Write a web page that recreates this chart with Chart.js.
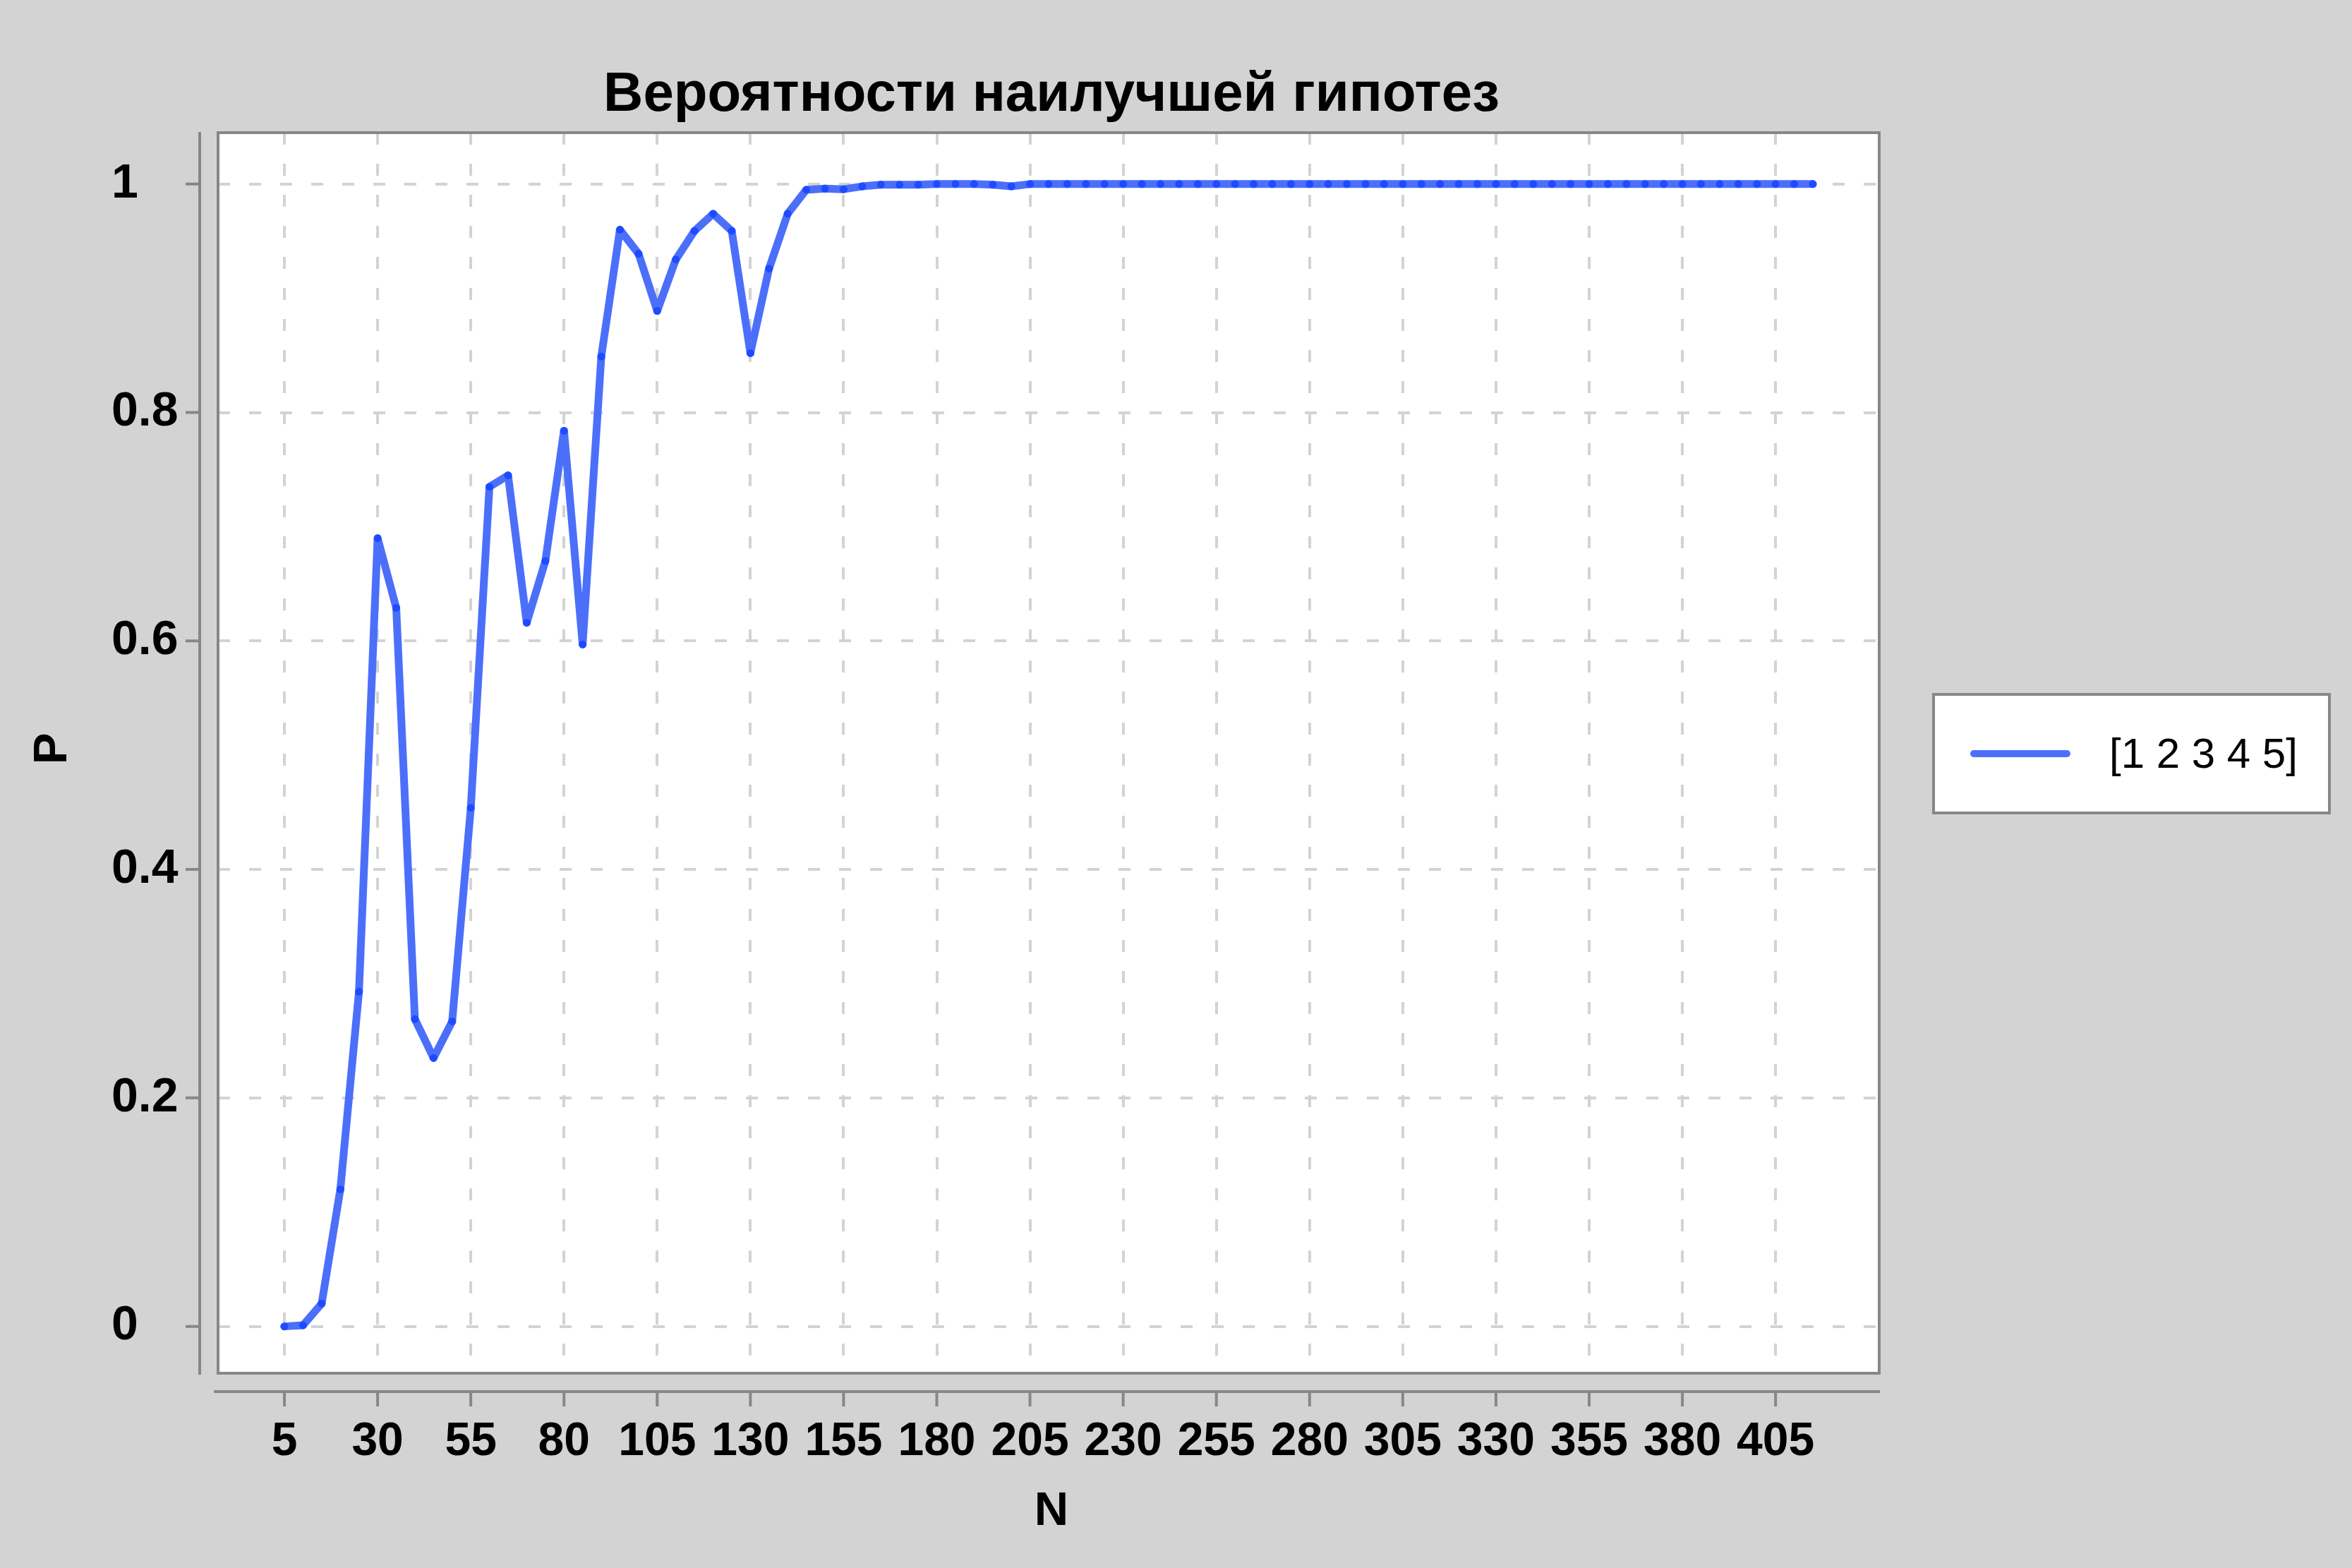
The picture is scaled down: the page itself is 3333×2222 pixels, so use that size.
<!DOCTYPE html>
<html>
<head>
<meta charset="utf-8">
<title>Вероятности наилучшей гипотез</title>
<script src="https://cdn.jsdelivr.net/npm/chart.js@4/dist/chart.umd.min.js"></script>
<style>
  html, body { margin: 0; padding: 0; background: #d3d3d3; }
  canvas { display: block; }
</style>
</head>
<body>
<canvas id="chart" width="3333" height="2222" style="width:3333px;height:2222px"></canvas>
<script>
// данные
const nValues = [5, 10, 15, 20, 25, 30, 35, 40, 45, 50, 55, 60, 65, 70, 75, 80, 85, 90, 95, 100,
  105, 110, 115, 120, 125, 130, 135, 140, 145, 150, 155, 160, 165, 170, 175, 180, 185, 190, 195, 200,
  205, 210, 215, 220, 225, 230, 235, 240, 245, 250, 255, 260, 265, 270, 275, 280, 285, 290, 295, 300,
  305, 310, 315, 320, 325, 330, 335, 340, 345, 350, 355, 360, 365, 370, 375, 380, 385, 390, 395, 400,
  405, 410, 415];
const pValues = [0, 0.001, 0.02, 0.12, 0.293, 0.69, 0.629, 0.269, 0.235, 0.267,
  0.454, 0.735, 0.745, 0.616, 0.67, 0.784, 0.597, 0.849, 0.96, 0.939,
  0.889, 0.934, 0.959, 0.974, 0.959, 0.852, 0.926, 0.974, 0.995, 0.996,
  0.9955, 0.998, 0.9995, 0.9995, 0.9995, 1, 1, 1, 0.9995, 0.998,
  1, 1, 1, 1, 1, 1, 1, 1, 1, 1, 1, 1, 1, 1, 1, 1, 1, 1, 1, 1,
  1, 1, 1, 1, 1, 1, 1, 1, 1, 1, 1, 1, 1, 1, 1, 1, 1, 1, 1, 1,
  1, 1, 1];
const xTicks = [5, 30, 55, 80, 105, 130, 155, 180, 205, 230, 255, 280, 305, 330, 355, 380, 405];
const yTicks = [0, 0.2, 0.4, 0.6, 0.8, 1];
const yTickLabels = ['0', '0.2', '0.4', '0.6', '0.8', '1'];
const seriesName = '[1 2 3 4 5]';
const titleText = 'Вероятности наилучшей гипотез';
const xTitle = 'N';
const yTitle = 'P';

const lineColor = '#4c6ffa';
const axisGray = '#878787';
const fontFamily = "'Liberation Sans', Arial, sans-serif";

// рамка, оси, заголовки и легенда
const framePlugin = {
  id: 'frame',
  beforeDraw: function(chart) {
    const ctx = chart.ctx;
    const a = chart.chartArea;
    ctx.save();
    ctx.fillStyle = '#d3d3d3';
    ctx.fillRect(0, 0, chart.width, chart.height);
    ctx.fillStyle = '#ffffff';
    ctx.fillRect(a.left, a.top, a.right - a.left, a.bottom - a.top);
    ctx.restore();
  },
  afterDraw: function(chart) {
    const ctx = chart.ctx;
    const a = chart.chartArea;
    const xs = chart.scales.x;
    const ys = chart.scales.y;
    ctx.save();

    // рамка области графика
    ctx.strokeStyle = axisGray;
    ctx.lineWidth = 4;
    ctx.strokeRect(a.left, a.top, a.right - a.left, a.bottom - a.top);

    // ось Y, смещённая влево
    const yAxisX = a.left - 26;
    ctx.beginPath();
    ctx.moveTo(yAxisX, a.top - 1);
    ctx.lineTo(yAxisX, a.bottom + 2);
    yTicks.forEach(function(v) {
      const py = ys.getPixelForValue(v);
      ctx.moveTo(yAxisX, py);
      ctx.lineTo(yAxisX - 20, py);
    });
    // ось X, смещённая вниз
    const xAxisY = a.bottom + 26;
    ctx.moveTo(a.left - 6, xAxisY);
    ctx.lineTo(a.right + 1, xAxisY);
    xTicks.forEach(function(v) {
      const px = xs.getPixelForValue(v);
      ctx.moveTo(px, xAxisY);
      ctx.lineTo(px, xAxisY + 21);
    });
    ctx.stroke();

    // заголовок
    const cx = (a.left + a.right) / 2;
    ctx.fillStyle = '#000';
    ctx.textAlign = 'center';
    ctx.textBaseline = 'alphabetic';
    ctx.font = 'bold 78px ' + fontFamily;
    ctx.fillText(titleText, cx + 4, 157);

    // подписи осей
    ctx.font = 'bold 67px ' + fontFamily;
    ctx.textBaseline = 'middle';
    ctx.fillText(xTitle, cx + 4, 2143);
    ctx.save();
    ctx.translate(76, (a.top + a.bottom) / 2 - 6);
    ctx.rotate(-Math.PI / 2);
    ctx.fillText(yTitle, 0, 0);
    ctx.restore();

    // легенда
    const lx = 2740, ly = 984, lw = 561, lh = 168;
    ctx.fillStyle = '#ffffff';
    ctx.fillRect(lx, ly, lw, lh);
    ctx.strokeStyle = axisGray;
    ctx.lineWidth = 4;
    ctx.strokeRect(lx, ly, lw, lh);
    const midY = ly + lh / 2;
    ctx.strokeStyle = lineColor;
    ctx.lineWidth = 10;
    ctx.lineCap = 'round';
    ctx.beginPath();
    ctx.moveTo(2797, midY);
    ctx.lineTo(2929, midY);
    ctx.stroke();
    ctx.fillStyle = '#000';
    ctx.textAlign = 'left';
    ctx.textBaseline = 'middle';
    ctx.font = '60px ' + fontFamily;
    ctx.fillText(chart.data.datasets[0].label, 2989, midY + 3);

    ctx.restore();
  }
};

const chart = new Chart(document.getElementById('chart').getContext('2d'), {
  type: 'line',
  data: {
    labels: nValues,
    datasets: [{
      label: seriesName,
      data: nValues.map(function(n, i) { return { x: n, y: pValues[i] }; }),
      borderColor: lineColor,
      borderWidth: 11,
      borderCapStyle: 'round',
      borderJoinStyle: 'round',
      tension: 0,
      fill: false,
      pointRadius: 5.5,
      pointHoverRadius: 5.5,
      pointBorderWidth: 0,
      pointBackgroundColor: '#1e4bff'
    }]
  },
  options: {
    responsive: false,
    animation: false,
    devicePixelRatio: 1,
    layout: { padding: { left: 158, top: 188, right: 670, bottom: 0 } },
    plugins: {
      legend: { display: false },
      title: { display: false },
      tooltip: { enabled: false }
    },
    scales: {
      x: {
        type: 'linear',
        min: -12.8,
        max: 432.8,
        afterBuildTicks: function(scale) {
          scale.ticks = xTicks.map(function(v) { return { value: v }; });
        },
        afterFit: function(scale) { scale.height = 276; },
        ticks: {
          autoSkip: false,
          maxRotation: 0,
          minRotation: 0,
          padding: 58,
          color: '#000',
          font: { family: fontFamily, size: 66, weight: 'bold' }
        },
        grid: { color: '#d3d3d3', lineWidth: 4, drawTicks: false },
        border: { display: false, dash: [17, 27] }
      },
      y: {
        type: 'linear',
        min: -0.041,
        max: 1.045,
        afterBuildTicks: function(scale) {
          scale.ticks = yTicks.map(function(v) { return { value: v }; });
        },
        afterFit: function(scale) { scale.width = 151; },
        ticks: {
          crossAlign: 'far',
          padding: 10,
          color: '#000',
          font: { family: fontFamily, size: 68, weight: 'bold' },
          callback: function(value, index) { return yTickLabels[index]; }
        },
        grid: { color: '#d3d3d3', lineWidth: 4, drawTicks: false },
        border: { display: false, dash: [17, 27] }
      }
    }
  },
  plugins: [framePlugin]
});
</script>
</body>
</html>
